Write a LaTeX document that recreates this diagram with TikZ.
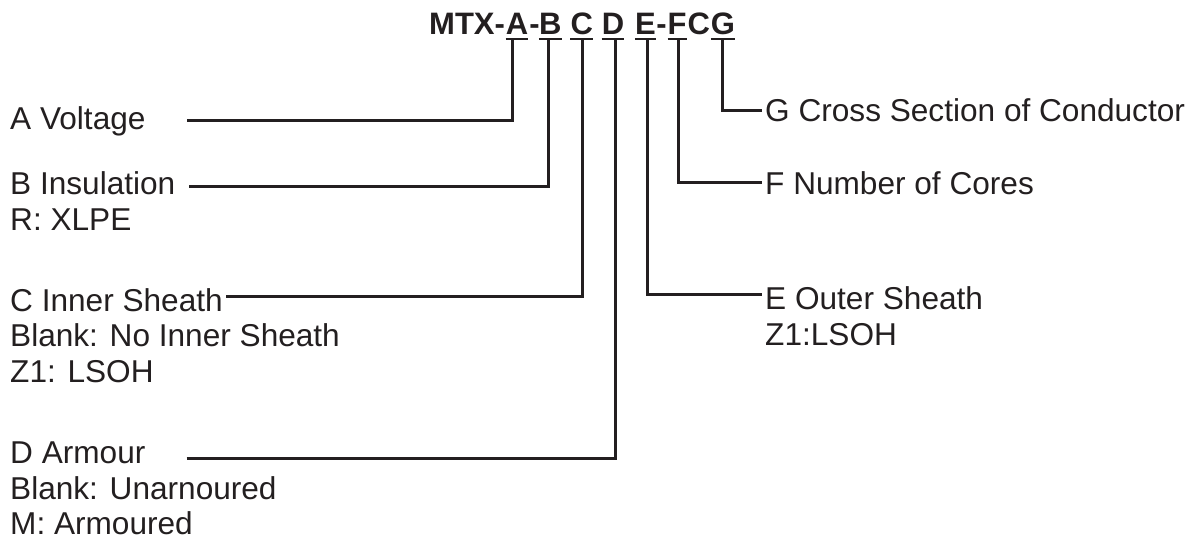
\documentclass[tikz,border=0pt]{standalone}
\usepackage{fontspec}
\setmainfont{Liberation Sans}
\definecolor{ink}{HTML}{231F20}
\begin{document}
\begin{tikzpicture}[x=1pt,y=-1pt,
  lbl/.style={font=\fontsize{31.6}{35.5}\selectfont, text=ink, inner sep=0pt, align=left, anchor=north west},
  ttl/.style={font=\fontsize{31}{32}\selectfont\bfseries, text=ink, inner sep=0pt, anchor=base},
  conn/.style={draw=ink, line width=3pt},
  uline/.style={draw=ink, line width=2.4pt}]
\useasboundingbox (0,0) rectangle (1202,544);
% title
\node[ttl, anchor=base west] (tM) at (429,34.3) {MTX-};
\node[ttl] (tA) at (517,34.3) {A};
\node[ttl] (th1) at (534.5,34.3) {-};
\node[ttl] (tB) at (550.3,34.3) {B};
\node[ttl] (tC) at (581.7,34.3) {C};
\node[ttl] (tD) at (613,34.3) {D};
\node[ttl] (tE) at (645.5,34.3) {E};
\node[ttl] (th2) at (661.5,34.3) {-};
\node[ttl] (tF) at (677.2,34.3) {F};
\node[ttl] (tC2) at (698.8,34.3) {C};
\node[ttl] (tG) at (723,34.3) {G};
\foreach \n in {tA,tB,tC,tD,tE,tF,tG}
  \draw[uline] ([yshift=-4.6pt]\n.base west) -- ([yshift=-4.6pt]\n.base east);
% attachment points under the letters
\coordinate (uA) at (512,40);
\coordinate (uB) at (548.3,40);
\coordinate (uC) at (582,40);
\coordinate (uD) at (615,40);
\coordinate (uE) at (647,40);
\coordinate (uF) at (678,40);
\coordinate (uG) at (722,40);
% labels
\node[lbl] (lA) at (10,106) {A Voltage};
\node[lbl] (lB) at (10,171.7) {B Insulation\\R: XLPE};
\node[lbl] (lC) at (10,288) {C Inner Sheath\\Blank: No Inner Sheath\\Z1: LSOH};
\node[lbl] (lD) at (10,441.7) {D Armour\\Blank: Unarnoured\\M: Armoured};
\node[lbl] (lG) at (765,98) {G Cross Section of Conductor};
\node[lbl] (lF) at (765,171.7) {F Number of Cores};
\node[lbl] (lE) at (765,286.7) {E Outer Sheath\\Z1:LSOH};
% connector ends
\coordinate (sA) at (187,120);
\coordinate (sB) at (189,186.7);
\coordinate (sC) at (226,296.7);
\coordinate (sD) at (186.7,458.3);
\coordinate (sG) at (762,110);
\coordinate (sF) at (762,182.7);
\coordinate (sE) at (762,294.3);
\draw[conn] (sA) -| (uA);
\draw[conn] (sB) -| (uB);
\draw[conn] (sC) -| (uC);
\draw[conn] (sD) -| (uD);
\draw[conn] (uE) |- (sE);
\draw[conn] (uF) |- (sF);
\draw[conn] (uG) |- (sG);
\end{tikzpicture}
\end{document}
